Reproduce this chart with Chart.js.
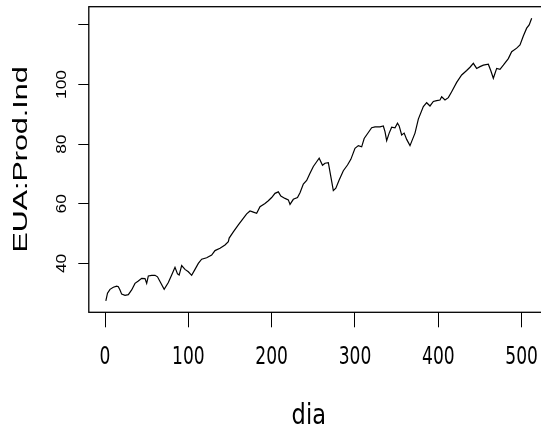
<!DOCTYPE html>
<html>
<head>
<meta charset="utf-8">
<script src="https://cdn.jsdelivr.net/npm/chart.js@4/dist/chart.umd.min.js"></script>
<style>
  html, body { margin: 0; padding: 0; overflow: hidden; background: #fff; }
  #wrap { width: 560px; height: 432px; }
</style>
</head>
<body>
<div id="wrap"><canvas id="chart"></canvas></div>
<script>
// series (index, value)
const dias = [1, 3, 6, 10, 14, 16, 18, 20, 24, 28, 32, 36, 40, 44, 48, 50, 52, 56, 60, 63,
  66, 71, 76, 80, 84, 87, 89, 92, 96, 100, 104, 108, 112, 116, 122, 128, 132, 138, 144, 148,
  149, 154, 160, 165, 170, 174, 178, 182, 186, 192, 196, 200, 204, 208, 211, 216, 220, 222, 226, 231,
  234, 238, 242, 246, 250, 254, 257, 261, 264, 268, 271, 274, 277, 281, 286, 291, 295, 300, 304, 308,
  311, 316, 320, 324, 330, 334, 336, 338, 341, 344, 348, 351, 353, 356, 359, 362, 366, 369, 372, 376,
  382, 386, 390, 394, 398, 402, 404, 408, 412, 416, 422, 428, 434, 438, 442, 446, 450, 454, 460, 463,
  466, 470, 474, 478, 484, 488, 494, 498, 502, 506, 509, 512];
const prodInd = [27.4, 30.0, 31.3, 32.0, 32.4, 32.2, 31.1, 29.7, 29.3, 29.5, 31.1, 33.3, 34.1, 35.0, 34.9, 33.3, 35.8, 36.0, 36.0, 35.5,
  33.9, 31.3, 33.6, 36.1, 38.7, 36.5, 36.1, 39.3, 38.0, 37.2, 36.0, 38.0, 40.0, 41.4, 41.9, 42.8, 44.3, 45.1, 46.2, 47.3,
  48.5, 50.6, 52.9, 54.8, 56.6, 57.6, 57.2, 56.8, 59.0, 60.1, 61.0, 62.1, 63.5, 64.0, 62.6, 61.8, 61.3, 59.8, 61.5, 62.1,
  63.7, 66.6, 67.8, 70.2, 72.5, 74.1, 75.3, 72.9, 73.6, 73.8, 69.1, 64.4, 65.2, 68.0, 71.1, 73.0, 74.9, 78.6, 79.5, 79.1,
  81.9, 83.9, 85.5, 85.8, 85.8, 86.1, 84.2, 81.2, 83.7, 85.7, 85.5, 87.0, 86.1, 83.1, 83.7, 81.6, 79.5, 81.6, 83.7, 88.4,
  92.6, 93.9, 92.8, 94.3, 94.6, 94.8, 95.9, 94.8, 95.6, 97.6, 100.7, 103.2, 104.7, 105.8, 107.1, 105.4, 106.0, 106.5, 106.8, 104.6,
  102.1, 105.4, 105.1, 106.5, 108.7, 111.0, 112.2, 113.3, 116.3, 118.9, 120.0, 122.2];

const xTicks = [0, 100, 200, 300, 400, 500];
const yTicks = [40, 60, 80, 100, 120];
const yTickLabels = ['40', '60', '80', '100', ''];

// R-like text is taller than the canvas fonts: stretch glyphs vertically about their anchor
function patchFillText(ctx) {
  if (ctx.__patched) return;
  const fill = ctx.fillText;
  ctx.__sy = 1;
  ctx.__dx = 0;
  ctx.fillText = function (text, x, y, maxWidth) {
    const sy = this.__sy, dx = this.__dx;
    if (sy === 1 && dx === 0) {
      return maxWidth === undefined ? fill.call(this, text, x, y) : fill.call(this, text, x, y, maxWidth);
    }
    const m = this.getTransform();
    const ax = m.a * x + m.c * y + m.e + dx;
    const ay = m.b * x + m.d * y + m.f;
    this.save();
    this.setTransform(1, 0, 0, sy, ax, ay);
    this.transform(m.a, m.b, m.c, m.d, 0, 0);
    fill.call(this, text, 0, 0);
    this.restore();
  };
  ctx.__patched = true;
}

function wrapDraw(scale, name, sy, dx) {
  const key = '__wrapped_' + name;
  if (scale[key]) return;
  const orig = scale[name];
  scale[name] = function (...args) {
    const c = this.ctx;
    c.__sy = sy;
    c.__dx = dx || 0;
    orig.apply(this, args);
    c.__sy = 1;
    c.__dx = 0;
  };
  scale[key] = true;
}

const stretchText = {
  id: 'stretchText',
  beforeDraw(chart) {
    patchFillText(chart.ctx);
    wrapDraw(chart.scales.x, 'drawLabels', 1.33);
    wrapDraw(chart.scales.x, 'drawTitle', 1.1, -10);
    wrapDraw(chart.scales.y, 'drawLabels', 1.12);
    wrapDraw(chart.scales.y, 'drawTitle', 1.45);
  }
};

// box round the plot region
const plotBox = {
  id: 'plotBox',
  afterDraw(chart) {
    const { ctx, chartArea: a } = chart;
    ctx.save();
    ctx.strokeStyle = '#000';
    ctx.lineWidth = 1.3;
    ctx.strokeRect(a.left, a.top, a.right - a.left, a.bottom - a.top);
    ctx.restore();
  }
};

const narrow = "'Liberation Sans Narrow', 'DejaVu Sans Condensed', 'Liberation Sans', sans-serif";
const sans = "'Liberation Sans', Arial, sans-serif";

const ctx = document.getElementById('chart').getContext('2d');
new Chart(ctx, {
  type: 'line',
  data: {
    datasets: [{
      data: dias.map((d, i) => ({ x: d, y: prodInd[i] })),
      borderColor: '#000',
      borderWidth: 1.2,
      pointRadius: 0,
      tension: 0,
      fill: false
    }]
  },
  options: {
    responsive: true,
    maintainAspectRatio: false,
    animation: false,
    devicePixelRatio: 1,
    layout: { padding: { top: 6.7, right: 11.3, left: 0, bottom: 0 } },
    plugins: {
      legend: { display: false },
      tooltip: { enabled: false }
    },
    scales: {
      x: {
        type: 'linear',
        min: -19.44,
        max: 532.44,
        afterBuildTicks: (scale) => { scale.ticks = xTicks.map(v => ({ value: v })); },
        afterFit: (scale) => {
          scale.height = 119.7;
          scale.paddingLeft = 0;
          scale.paddingRight = 0;
        },
        ticks: {
          color: '#000',
          font: { family: narrow, size: 19 },
          padding: 19,
          maxRotation: 0,
          autoSkip: false
        },
        grid: { drawOnChartArea: false, drawTicks: true, tickLength: 15, color: '#000', lineWidth: 1 },
        border: { display: false },
        title: {
          display: true,
          text: 'dia',
          color: '#000',
          font: { family: narrow, size: 25 },
          padding: { top: 0, bottom: 0.5 }
        }
      },
      y: {
        min: 23.6,
        max: 126.1,
        afterBuildTicks: (scale) => { scale.ticks = yTicks.map(v => ({ value: v })); },
        afterFit: (scale) => {
          scale.width = 88.8;
          scale.paddingTop = 0;
          scale.paddingBottom = 0;
        },
        ticks: {
          color: '#000',
          font: { family: sans, size: 15.5 },
          minRotation: 90,
          maxRotation: 90,
          crossAlign: 'center',
          padding: 3.8,
          autoSkip: false,
          callback: (value) => yTickLabels[yTicks.indexOf(value)]
        },
        grid: { drawOnChartArea: false, drawTicks: true, tickLength: 10.5, color: '#000', lineWidth: 1 },
        border: { display: false },
        title: {
          display: true,
          text: 'EUA:Prod.Ind',
          color: '#000',
          font: { family: sans, size: 21 },
          padding: { top: 8.4, bottom: 0 }
        }
      }
    }
  },
  plugins: [stretchText, plotBox]
});
</script>
</body>
</html>
